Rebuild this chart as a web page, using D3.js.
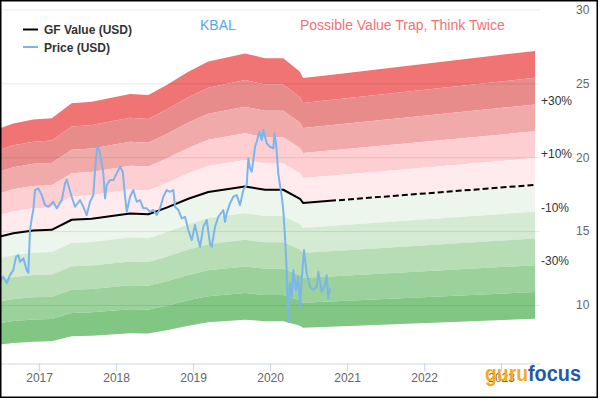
<!DOCTYPE html>
<html><head><meta charset="utf-8">
<script src="https://cdn.jsdelivr.net/npm/d3@7"></script>
<style>
html,body{margin:0;padding:0;background:#fff;}
text{font-family:"Liberation Sans",Arial,sans-serif;}
</style></head>
<body><svg id="chart" width="600" height="420"></svg>
<script>
// ---- data ----
const gfYears  = [2016.492, 2016.665, 2016.925, 2017.164, 2017.423, 2017.683, 2018.181, 2018.418, 2018.657, 2018.938, 2019.197, 2019.674, 2019.934, 2020.171, 2020.388, 2020.427, 2020.778, 2023.440];
const gfValues = [14.64, 14.86, 15.04, 15.09, 15.77, 15.84, 16.19, 16.14, 16.59, 17.19, 17.65, 18.02, 17.80, 17.80, 17.19, 16.91, 17.05, 18.13];
const gfSolidCount = 17; // points with actual data; rest is projected (dashed)

const priceYears = [2016.492,2016.535,2016.579,2016.622,2016.665,2016.700,2016.730,2016.752,2016.795,2016.839,2016.860,2016.882,2016.904,2016.925,2016.947,2016.990,
 2017.034,2017.077,2017.119,2017.184,2017.229,2017.294,2017.336,2017.358,2017.379,2017.423,2017.466,2017.531,2017.574,2017.618,2017.661,2017.704,2017.726,2017.756,2017.782,2017.813,2017.834,2017.856,2017.878,2017.921,2017.964,2017.986,
 2018.008,2018.051,2018.086,2018.116,2018.138,2018.181,2018.223,2018.268,2018.310,2018.353,2018.397,2018.440,2018.483,2018.527,2018.570,2018.613,2018.657,2018.700,2018.743,2018.765,2018.808,2018.852,2018.895,2018.938,2018.982,
 2019.025,2019.068,2019.090,2019.133,2019.177,2019.219,2019.242,2019.284,2019.327,2019.392,2019.414,2019.436,2019.479,2019.522,2019.566,2019.609,2019.652,2019.696,2019.717,2019.739,2019.761,2019.782,2019.804,2019.826,2019.860,2019.891,2019.912,2019.956,2019.999,
 2020.042,2020.055,2020.077,2020.106,2020.128,2020.151,2020.171,2020.193,2020.215,2020.236,2020.258,2020.281,2020.301,2020.336,2020.366,2020.388,2020.410,2020.440,2020.475,2020.518,2020.561,2020.605,2020.626,2020.670,2020.713,2020.735,2020.756,2020.778];
const priceValues = [11.57,11.91,11.48,12.02,12.36,13.26,13.38,12.92,13.16,12.36,12.18,15.07,15.86,16.43,17.78,17.89,
 17.44,16.76,16.65,16.99,16.54,17.10,18.23,18.50,18.12,17.33,16.65,17.10,16.65,16.09,16.99,17.44,19.13,20.71,20.49,19.59,18.91,17.22,18.12,18.46,18.46,18.68,
 18.91,19.36,19.02,17.33,16.31,17.33,17.78,16.99,17.10,16.54,16.54,16.31,16.43,16.09,16.54,17.33,17.78,17.66,17.78,16.65,16.43,15.86,15.97,15.07,14.39,
 15.41,14.39,13.94,15.29,15.75,14.17,13.94,15.29,15.97,16.43,15.63,16.20,16.88,17.33,17.44,16.76,17.78,18.12,19.93,19.25,19.02,19.81,20.71,21.05,21.73,21.16,21.84,20.94,20.71,
 20.60,21.62,20.94,18.91,18.12,17.33,16.43,14.62,12.36,8.86,11.46,10.56,12.36,11.01,11.91,9.88,11.69,13.72,12.14,11.23,11.01,11.23,12.25,10.89,11.35,12.02,10.45,11.12];

const bandFactors = [1.5, 1.4, 1.3, 1.2, 1.1, 1.0, 0.9, 0.8, 0.7, 0.6, 0.5];
const bandColors  = ["#f07474","#e88b8b","#f0aaaa","#fdcfd3","#ffebed","#edf6ed","#d4ead3","#b7ddb5","#9bd19b","#82c683"];
const bandLabels  = [{f:1.3,t:"+30%"},{f:1.1,t:"+10%"},{f:0.9,t:"-10%"},{f:0.7,t:"-30%"}];
const yTicks = [10, 15, 20, 25, 30];
const xTicks = [2017, 2018, 2019, 2020, 2021, 2022, 2023];
const ticker = "KBAL";
const verdict = "Possible Value Trap, Think Twice";
const legendItems = [{name:"GF Value (USD)", color:"#000"},{name:"Price (USD)", color:"#7cb5ec"}];

// ---- layout ----
const svg = d3.select("#chart");
const plotW = 540, plotBottom = 363.5;
const x = d3.scaleLinear().domain([2016.492, 2023.505]).range([0, plotW]);
const y = d3.scaleLinear().domain([10, 30]).range([305, 9.5]);

const gf = gfYears.map((yr,i)=>({yr, v:gfValues[i]}));
const price = priceYears.map((yr,i)=>({yr, v:priceValues[i]}));

// bands
for (let i=0;i<bandColors.length;i++){
  const hi = bandFactors[i], lo = bandFactors[i+1];
  const area = d3.area().x(d=>x(d.yr)).y0(d=>y(d.v*lo)).y1(d=>y(d.v*hi));
  svg.append("path").datum(gf).attr("d", area).attr("fill", bandColors[i]);
}

// gridlines + right labels
const yAxis = d3.axisRight(y).tickValues(yTicks).tickSize(plotW).tickPadding(36);
const yg = svg.append("g").call(yAxis);
yg.select(".domain").remove();
yg.selectAll("line").attr("stroke","rgba(0,0,0,0.09)").attr("stroke-width",1);
yg.selectAll("text").attr("fill","#666").attr("font-size","12px").style("font-family","Liberation Sans, Arial, sans-serif");

// x axis
const xAxis = d3.axisBottom(x).tickValues(xTicks).tickFormat(d3.format("d")).tickSize(8).tickSizeOuter(0).tickPadding(2);
const xg = svg.append("g").attr("transform",`translate(0,${plotBottom})`).call(xAxis);
xg.select(".domain").attr("stroke","#ccd6eb");
xg.selectAll("line").attr("stroke","#ccd6eb");
xg.selectAll("text").attr("fill","#666").attr("font-size","12px").style("font-family","Liberation Sans, Arial, sans-serif");

// band labels
const last = gf[gf.length-1];
svg.selectAll("text.bl").data(bandLabels).enter().append("text").attr("class","bl")
  .attr("x", 541).attr("y", d=>y(last.v*d.f)-4).attr("dy","0.35em")
  .attr("font-size","12px").attr("fill","#333").text(d=>d.t);

// GF value line
const line = d3.line().x(d=>x(d.yr)).y(d=>y(d.v));
svg.append("path").datum(gf.slice(0,gfSolidCount)).attr("d",line)
  .attr("fill","none").attr("stroke","#000").attr("stroke-width",2).attr("stroke-linejoin","round");
svg.append("path").datum(gf.slice(gfSolidCount-1)).attr("d",line)
  .attr("fill","none").attr("stroke","#000").attr("stroke-width",2).attr("stroke-dasharray","6,3");

// price line
svg.append("path").datum(price).attr("d",line)
  .attr("fill","none").attr("stroke","#7cb5ec").attr("stroke-width",2).attr("stroke-linejoin","round");

// titles
svg.append("text").attr("x",200).attr("y",30).attr("font-size","14px").attr("fill","#5aa5ea").text(ticker);
svg.append("text").attr("x",300).attr("y",30).attr("font-size","14px").attr("fill","#f07272").text(verdict);

// legend
legendItems.forEach((it,i)=>{
  const ly = 29.5 + i*17.5;
  svg.append("line").attr("x1",23).attr("x2",38).attr("y1",ly).attr("y2",ly).attr("stroke",it.color).attr("stroke-width",2);
  svg.append("text").attr("x",44).attr("y",ly+4.5).attr("font-size","12px").attr("font-weight","bold").attr("fill","#333").text(it.name);
});

// logo
svg.append("text").attr("x",485).attr("y",381).attr("font-size","22px").attr("font-weight","bold")
  .attr("fill","#f7a823").attr("textLength",43).attr("lengthAdjust","spacingAndGlyphs")
  .style("font-family","Liberation Sans Narrow, Liberation Sans, Arial, sans-serif").text("guru");
svg.append("text").attr("x",528).attr("y",381).attr("font-size","22px").attr("font-weight","bold")
  .attr("fill","#1f5aa8").attr("textLength",53).attr("lengthAdjust","spacingAndGlyphs")
  .style("font-family","Liberation Sans Narrow, Liberation Sans, Arial, sans-serif").text("focus");

// border
svg.append("rect").attr("x",0.75).attr("y",0.75).attr("width",596.5).attr("height",396.5)
  .attr("fill","none").attr("stroke","#000").attr("stroke-width",1.5);
</script></body></html>
